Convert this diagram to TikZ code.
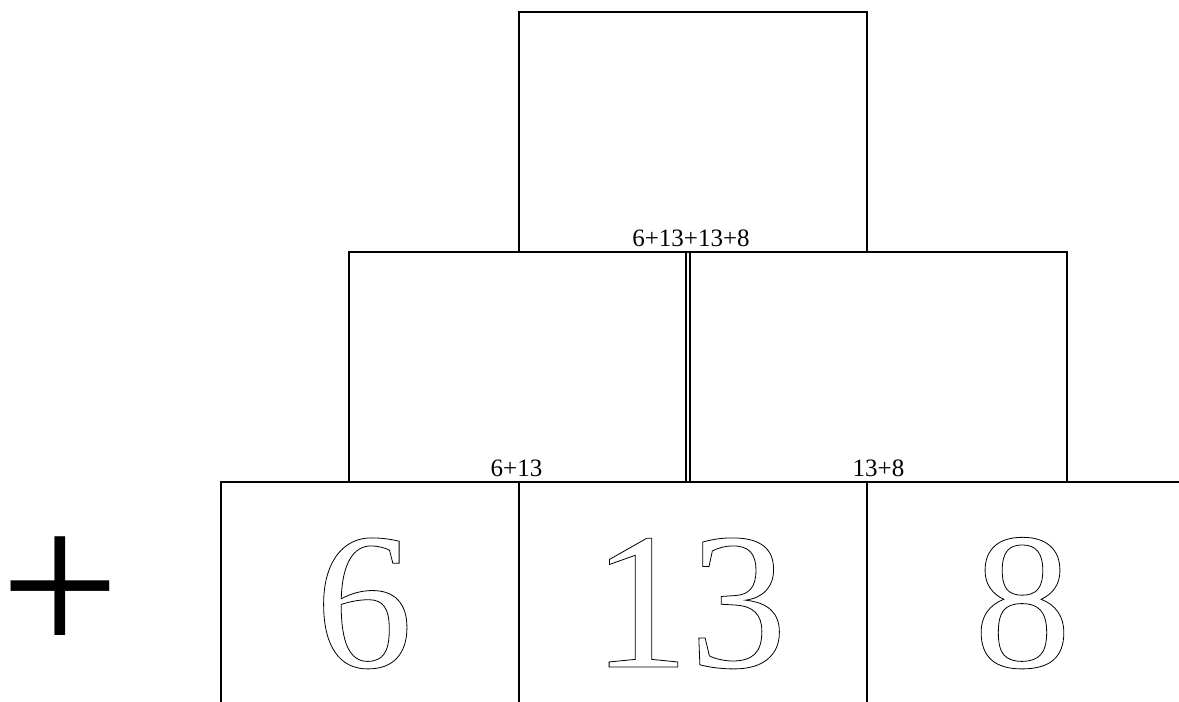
\documentclass[tikz,border=0pt]{standalone}
\usepackage{fontspec}
\setmainfont{Liberation Serif}
\usetikzlibrary{positioning}
% hollow glyphs: stroke the outline only
\newcommand{\hollow}[1]{\special{pdf:literal direct 1 Tr 0.8 w}#1\special{pdf:literal direct 0 Tr}}
\tikzset{
  brick/.style={rectangle, draw, line width=2pt, inner sep=0pt},
  sumlbl/.style={font=\fontsize{25}{25}\selectfont, inner sep=0pt, anchor=base},
  bigdigit/.style={font=\fontsize{195}{195}\selectfont, inner sep=0pt, anchor=base},
}
\begin{document}
\begin{tikzpicture}[x=1pt, y=-1pt]
  \useasboundingbox (0,0) rectangle (1179,702);
  \clip (0,0) rectangle (1179,702);

  % top brick
  \node[brick, minimum width=348pt, minimum height=240pt] (top) at (693,132) {};

  % middle row
  \node[brick, minimum width=337pt, minimum height=230pt] (midl) at (517.5,367) {};
  \node[brick, minimum width=377pt, minimum height=230pt] (midr) at (878.5,367) {};

  % bottom row (runs off the page)
  \node[brick, minimum width=298pt, minimum height=300pt] (botl) at (370,632) {};
  \node[brick, minimum width=348pt, minimum height=300pt] (botm) at (693,632) {};
  \node[brick, minimum width=348pt, minimum height=300pt] (botr) at (1041,632) {};

  % sums
  \node[sumlbl] (stop) at (691,246) {6+13+13+8};
  \node[sumlbl] (smidl) at (516.5,476) {6+13};
  \node[sumlbl] (smidr) at (878.5,476) {13+8};

  % given numbers
  \node[bigdigit] (nsix) at (364,667) {\hollow{6}};
  \node[bigdigit] (nthirteen) at (689.5,667) {\hollow{13}};
  \node[bigdigit] (neight) at (1022.5,667) {\hollow{8}};

  \node[bigdigit, font=\fontsize{212}{212}\selectfont, anchor=center] (plus) at (60.5,597) {+};

\end{tikzpicture}
\end{document}
